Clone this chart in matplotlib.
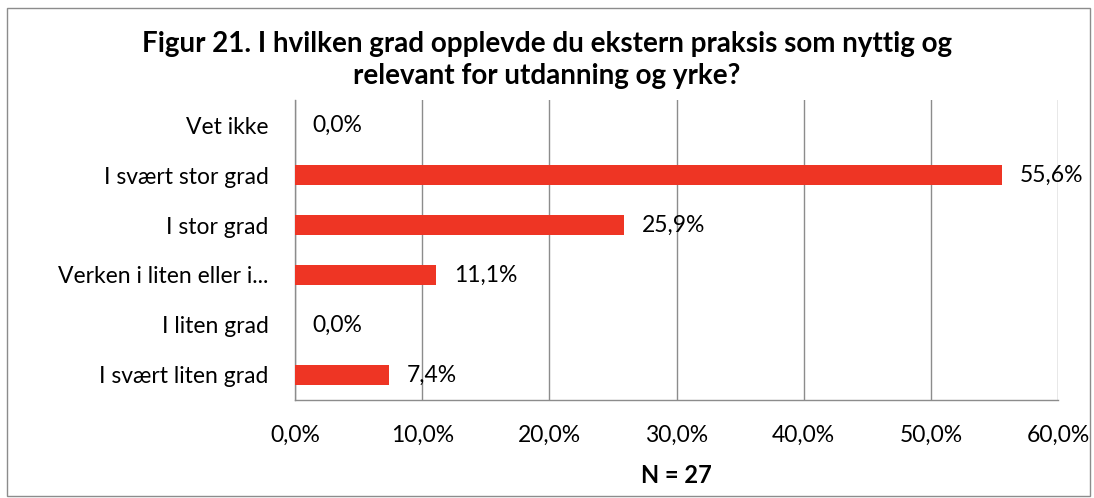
import matplotlib
matplotlib.use("Agg")
import matplotlib.pyplot as plt
from matplotlib.patches import Rectangle

categories = ["I svært liten grad", "I liten grad", "Verken i liten eller i...",
              "I stor grad", "I svært stor grad", "Vet ikke"]
values = [7.4, 0.0, 11.1, 25.9, 55.6, 0.0]
ticks = [0, 10, 20, 30, 40, 50, 60]

plt.rcParams['font.family'] = ['Lato', 'DejaVu Sans']

fig = plt.figure(figsize=(10.94, 4.98), dpi=100)
ax = fig.add_axes([0.2697, 0.197, 0.6974, 0.602])

y = range(len(categories))
ax.barh(y, values, height=0.4, color='#EE3524', zorder=3)
for yi, v in zip(y, values):
    ax.text(v + 1.4, yi, f"{v:.1f}%".replace('.', ','), va='center', ha='left',
            fontsize=16.5, color='black', zorder=4)

ax.set_xlim(0, 60)
ax.set_ylim(-0.5, len(categories) - 0.5)
ax.set_xticks(ticks)
ax.set_xticklabels([f"{t:.1f}%".replace('.', ',') for t in ticks], fontsize=16.5)
ax.set_yticks(list(y))
ax.set_yticklabels(categories, fontsize=16.5)
ax.tick_params(axis='both', length=0)
ax.tick_params(axis='y', pad=19)
ax.tick_params(axis='x', pad=18)
ax.grid(axis='x', color='#8C8C8C', linewidth=1, zorder=0)
for s in ['top', 'right']:
    ax.spines[s].set_visible(False)
for s in ['left', 'bottom']:
    ax.spines[s].set_color('#8C8C8C')
    ax.spines[s].set_linewidth(1)

ax.set_xlabel("N = 27", fontsize=17, fontweight='bold', labelpad=13)
fig.text(0.5, 0.8795, "Figur 21. I hvilken grad opplevde du ekstern praksis som nyttig og\n"
         "relevant for utdanning og yrke?", ha='center', va='center',
         fontsize=20, fontweight='bold', linespacing=1.27)

fig.patches.append(Rectangle((0.006, 0.004), 0.99, 0.98, transform=fig.transFigure,
                             fill=False, edgecolor='#8C8C8C', linewidth=1))

fig.savefig("out.png", dpi=100)
